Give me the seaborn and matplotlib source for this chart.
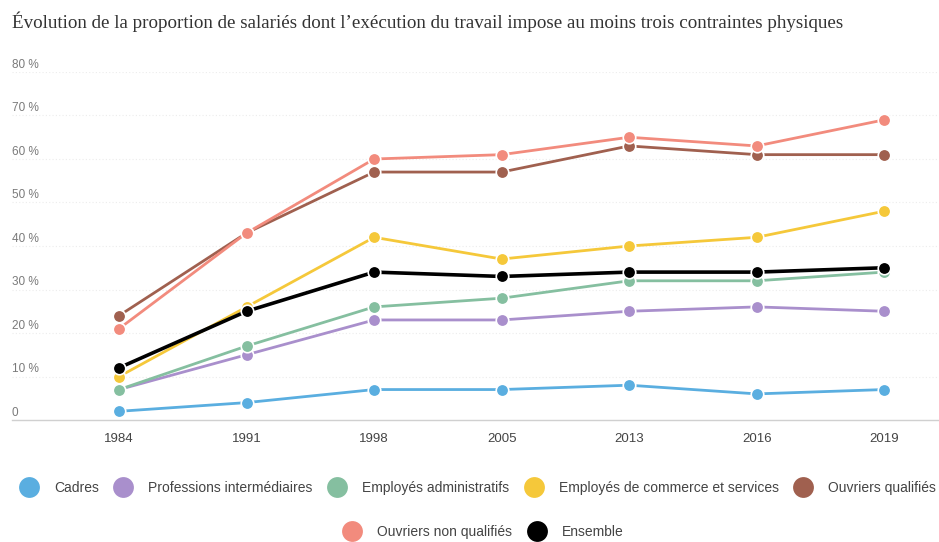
import matplotlib
matplotlib.use("Agg")
import matplotlib.pyplot as plt
from matplotlib.lines import Line2D
import pandas as pd
import seaborn as sns

years = ["1984", "1991", "1998", "2005", "2013", "2016", "2019"]
cadres = [2, 4, 7, 7, 8, 6, 7]
prof_inter = [7, 15, 23, 23, 25, 26, 25]
emp_admin = [7, 17, 26, 28, 32, 32, 34]
emp_commerce = [10, 26, 42, 37, 40, 42, 48]
ouv_qualif = [24, 43, 57, 57, 63, 61, 61]
ouv_non_qualif = [21, 43, 60, 61, 65, 63, 69]
ensemble = [12, 25, 34, 33, 34, 34, 35]

series = {
    "Cadres": cadres,
    "Professions intermédiaires": prof_inter,
    "Employés administratifs": emp_admin,
    "Employés de commerce et services": emp_commerce,
    "Ouvriers qualifiés": ouv_qualif,
    "Ouvriers non qualifiés": ouv_non_qualif,
    "Ensemble": ensemble,
}
colors = {
    "Cadres": "#5aaee0",
    "Professions intermédiaires": "#a98fcc",
    "Employés administratifs": "#85bfa0",
    "Employés de commerce et services": "#f5c83a",
    "Ouvriers qualifiés": "#a0604f",
    "Ouvriers non qualifiés": "#f28b7d",
    "Ensemble": "#000000",
}

rows = []
for name, vals in series.items():
    for y, v in zip(years, vals):
        rows.append({"annee": y, "valeur": v, "groupe": name})
df = pd.DataFrame(rows)

sns.set_style("white")
plt.rcParams["font.family"] = ["Liberation Sans", "DejaVu Sans"]

W, H = 939, 542
fig = plt.figure(figsize=(W / 100, H / 100), dpi=100)
ax = fig.add_axes([12 / W, (H - 420) / H, (W - 12) / W, (420 - 72) / H])

for i, name in enumerate(series):
    sub = df[df["groupe"] == name]
    lw = 2.6 if name == "Ensemble" else 2.0
    sns.lineplot(data=sub, x="annee", y="valeur", ax=ax, color=colors[name],
                 linewidth=lw, marker="o", markersize=9, markeredgecolor="white",
                 markeredgewidth=1.2, sort=False, zorder=3 + i, clip_on=False)

ax.set_xlim(-0.84, 6.43)
ax.set_ylim(0, 80)
ax.set_xlabel("")
ax.set_ylabel("")
ax.set_yticks([])
for s in ["top", "right", "left"]:
    ax.spines[s].set_visible(False)
ax.spines["bottom"].set_color("#d0d0d0")
ax.spines["bottom"].set_linewidth(1)

# faint dotted gridlines, labels sitting just above them
for v in range(10, 81, 10):
    ax.axhline(v, color="#ececec", linestyle=(0, (1, 2)), linewidth=0.8, zorder=1)
for v in range(0, 81, 10):
    lab = "0" if v == 0 else f"{v} %"
    ax.text(0.0, v + 0.3, lab, transform=ax.get_yaxis_transform(), ha="left",
            va="bottom", fontsize=8.5, color="#7a7a7a")

ax.tick_params(axis="x", length=0, pad=9, labelsize=9.5, labelcolor="#444444")

fig.text(12 / W, 1 - 22 / H, "Évolution de la proportion de salariés dont l’exécution du travail impose au moins trois contraintes physiques",
         ha="left", va="center", fontsize=13.7, color="#333333",
         family=["Liberation Serif", "DejaVu Serif"])

names = list(series)
def handles(lst):
    return [Line2D([], [], linestyle="none", marker="o", markersize=15,
                   markerfacecolor=colors[n], markeredgecolor="none") for n in lst]

leg_kw = dict(frameon=False, handletextpad=1.2, columnspacing=1.15, borderpad=0,
              prop={"family": ["Liberation Sans Narrow", "Liberation Sans"], "size": 10},
              labelcolor="#444444", handlelength=1.2)
l1 = fig.legend(handles(names[:5]), names[:5], ncol=5, loc="center left",
                bbox_to_anchor=(14 / W, 1 - 488 / H), **leg_kw)
l2 = fig.legend(handles(names[5:]), names[5:], ncol=2, loc="center left",
                bbox_to_anchor=(337 / W, 1 - 532 / H), **leg_kw)

fig.savefig("out.png", dpi=100, facecolor="white")
